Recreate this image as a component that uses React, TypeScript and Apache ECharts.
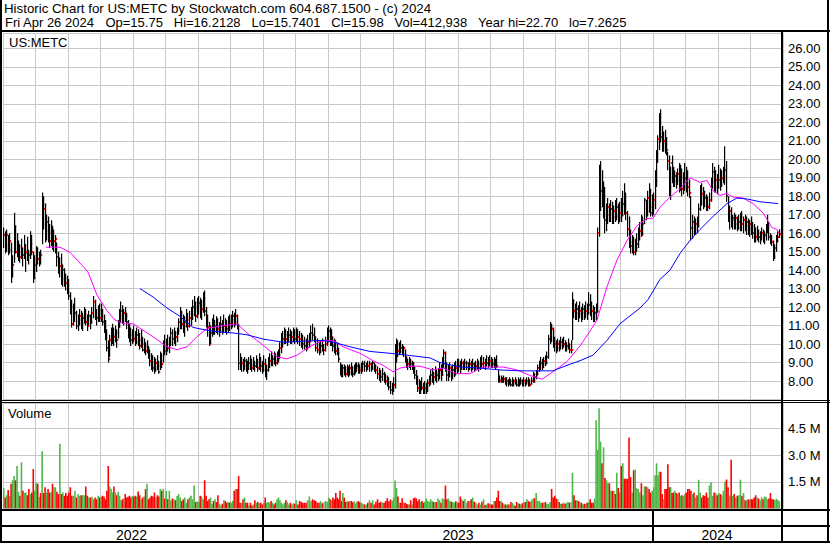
import React, { useEffect, useRef } from "react";
import * as echarts from "echarts";

const FONT = '"Liberation Sans", Arial, sans-serif';

// Daily bars, May 2 2022 .. Apr 26 2024 (one row per month)
const highs: number[] = [
  16.3,16.1,16.2,15.9,16.0,15.5,14.8,17.1,16.4,16.0,15.6,15.4,15.7,15.2,15.9,15.4,15.8,15.1,16.1,15.9,15.0,14.8,
  15.3,15.2,15.0,15.1,18.2,18.0,17.6,17.0,16.9,16.5,16.7,16.4,16.2,15.9,15.5,15.0,14.7,14.9,14.3,14.1,13.8,13.7,
  13.5,12.8,12.4,12.2,12.5,11.8,11.6,11.9,11.8,11.7,12.0,11.9,11.6,11.8,11.6,12.0,12.6,12.4,11.9,12.1,12.2,
  12.2,11.9,11.6,11.3,10.8,10.2,10.5,10.9,11.1,10.9,11.0,10.8,11.3,11.9,12.3,12.1,11.9,12.0,11.7,11.3,11.1,10.9,10.8,
  11.0,10.7,10.9,10.8,10.6,10.8,10.4,10.3,10.1,10.2,9.9,9.7,9.5,9.4,9.3,9.2,9.4,9.1,9.6,9.5,10.2,10.5,
  10.3,10.5,10.4,10.9,10.8,10.9,10.7,10.9,11.4,12.0,11.8,11.6,11.5,11.9,11.7,11.8,12.0,12.4,12.6,12.3,12.5,
  12.6,12.5,12.4,12.8,12.9,12.0,11.6,11.2,11.0,11.4,11.6,11.3,11.5,11.4,11.2,11.5,11.3,11.6,11.4,11.3,11.5,11.6,
  11.6,11.8,11.7,11.9,11.6,11.1,9.5,9.3,9.2,9.3,9.2,9.1,9.3,9.4,9.2,9.3,9.1,9.4,9.2,9.5,9.3,9.1,
  9.4,9.2,8.9,9.3,9.5,9.6,9.4,9.6,9.5,9.6,9.7,10.1,10.6,10.7,10.9,10.8,10.7,10.9,10.8,10.7,10.9,10.8,
  10.9,10.8,10.7,10.6,10.5,10.4,10.3,10.5,10.6,11.0,11.1,10.9,10.4,10.3,10.1,10.2,10.3,10.0,10.4,10.9,
  11.0,10.9,10.8,10.4,10.3,10.2,10.1,9.8,9.0,8.9,8.9,8.9,8.8,8.9,8.8,8.9,9.0,8.8,8.9,9.0,9.0,9.0,8.9,
  9.0,9.1,9.1,9.0,9.1,9.1,9.0,9.1,9.0,8.9,8.8,8.7,8.6,8.7,8.5,8.4,8.3,8.2,8.0,7.9,
  8.2,10.0,10.3,10.2,10.1,10.2,10.0,9.9,9.7,9.3,9.2,9.3,9.2,9.1,9.0,8.8,8.6,8.3,8.1,8.0,8.2,7.9,8.0,
  7.9,8.1,8.3,8.6,8.7,8.5,8.8,8.6,8.7,9.0,8.9,9.3,9.7,9.6,9.0,8.9,9.0,8.8,8.9,9.0,9.1,9.2,
  9.2,9.1,9.2,9.1,9.2,9.1,9.0,9.2,9.1,9.2,9.0,9.1,9.2,9.1,9.3,9.4,9.3,9.2,9.4,9.3,9.4,
  9.3,9.2,9.3,9.2,9.4,8.6,8.3,8.3,8.2,8.3,8.2,8.2,8.1,8.2,8.1,8.2,8.1,8.2,8.1,8.2,8.1,8.2,8.1,
  8.2,8.1,8.2,8.2,8.1,8.2,8.5,8.4,8.6,8.9,9.1,9.3,9.2,9.3,9.4,9.6,10.5,11.2,11.1,10.9,10.4,
  10.2,10.3,10.2,10.4,10.3,10.4,10.2,10.1,10.3,10.0,10.2,12.8,12.4,12.2,12.3,12.1,12.3,12.0,12.2,12.1,12.3,12.2,
  12.8,12.7,12.3,12.1,12.0,12.2,16.3,19.7,19.9,19.4,18.8,18.5,17.6,17.9,17.6,17.8,17.7,17.5,17.8,17.9,17.6,17.7,
  17.9,18.3,18.7,18.2,17.2,16.9,16.2,15.9,15.8,15.7,16.0,16.3,16.6,17.0,16.9,17.9,17.8,18.3,18.7,18.4,18.1,
  18.2,19.4,20.5,21.3,22.5,22.7,21.8,21.5,21.6,21.2,20.4,20.2,19.6,20.2,19.6,19.4,19.3,19.5,19.8,19.7,19.5,19.3,19.8,
  19.6,19.4,18.9,18.0,17.0,16.9,16.8,16.9,17.6,18.6,18.7,18.5,18.3,18.1,18.0,18.2,19.0,19.8,19.6,19.4,19.2,
  19.7,19.5,19.4,19.6,20.7,19.9,18.0,17.5,17.4,17.0,17.1,17.0,16.9,17.0,17.1,17.2,16.9,17.0,16.9,16.8,16.7,
  16.9,16.6,16.5,16.3,16.4,16.2,16.1,16.3,16.2,16.1,16.5,17.0,16.6,16.0,15.9,15.6,15.4,15.9,16.1,16.2128,
];
const lows: number[] = [
  15.2,14.9,15.0,14.8,14.9,13.3,13.6,14.4,14.9,14.7,14.5,14.4,14.6,14.2,14.6,13.9,14.5,14.3,14.6,14.8,13.3,13.5,
  13.9,14.3,14.2,14.3,15.4,16.2,15.5,15.6,15.5,15.2,15.3,15.1,15.0,14.9,14.2,13.8,13.6,13.2,13.1,13.1,12.9,12.7,
  12.4,11.6,10.9,11.0,11.2,10.8,10.7,11.0,10.8,10.7,11.1,11.0,10.7,11.0,10.8,11.1,11.4,11.3,11.0,11.2,11.2,
  11.2,11.0,10.6,10.2,9.6,9.0,9.3,9.9,10.0,9.9,10.1,9.8,10.3,10.9,11.2,11.1,11.0,11.2,10.8,10.3,10.1,9.9,10.0,
  10.1,9.9,10.0,9.9,9.7,9.8,9.6,9.5,9.4,9.5,9.2,8.8,8.6,8.5,8.4,8.5,8.6,8.4,8.6,8.7,9.0,9.4,
  9.4,9.6,9.5,9.9,9.9,10.0,9.9,10.1,10.5,10.8,10.8,10.6,10.4,10.9,10.7,10.9,11.0,11.3,11.5,11.2,11.4,
  11.6,11.4,11.3,11.7,11.5,10.9,10.4,9.9,10.0,10.4,10.5,10.5,10.6,10.5,10.4,10.6,10.5,10.6,10.6,10.5,10.6,10.7,
  10.8,10.9,10.9,11.0,10.8,8.6,8.6,8.5,8.5,8.6,8.5,8.4,8.6,8.6,8.5,8.6,8.5,8.7,8.5,8.6,8.5,8.4,
  8.5,8.2,8.05,8.5,8.7,8.8,8.8,8.9,8.8,8.9,9.0,9.2,9.5,9.8,10.0,10.0,9.9,10.1,10.0,10.0,10.1,10.0,
  10.1,10.0,9.9,9.8,9.7,9.7,9.6,9.7,9.8,10.1,10.2,10.1,9.6,9.5,9.4,9.5,9.6,9.4,9.6,9.9,
  10.1,9.9,9.9,9.6,9.5,9.4,9.4,9.0,8.3,8.2,8.2,8.3,8.2,8.3,8.2,8.3,8.3,8.2,8.3,8.4,8.5,8.4,8.4,
  8.4,8.5,8.5,8.5,8.6,8.5,8.5,8.6,8.5,8.4,8.1,8.0,7.9,8.0,7.9,7.8,7.7,7.5,7.3,7.2625,
  7.4,7.6,9.0,9.3,9.4,9.5,9.4,9.3,9.0,8.7,8.6,8.7,8.6,8.6,8.4,8.1,7.8,7.4,7.3,7.3,7.5,7.3,7.3,
  7.3,7.4,7.7,7.8,7.9,7.8,8.0,7.9,8.0,8.1,8.0,8.3,8.7,8.5,8.0,8.0,8.2,8.0,8.1,8.2,8.3,8.4,
  8.5,8.4,8.6,8.6,8.6,8.6,8.5,8.6,8.5,8.6,8.5,8.6,8.6,8.5,8.6,8.7,8.7,8.6,8.8,8.7,8.8,
  8.7,8.7,8.7,8.6,8.7,7.9,7.9,7.9,7.9,7.9,7.8,7.7,7.7,7.8,7.7,7.7,7.7,7.8,7.7,7.7,7.7,7.8,7.7,
  7.7,7.7,7.8,7.7,7.7,7.8,7.9,7.9,8.1,8.3,8.5,8.6,8.6,8.7,8.8,8.9,9.2,10.0,10.1,9.8,9.6,
  9.5,9.6,9.6,9.7,9.7,9.8,9.6,9.6,9.7,9.5,9.5,10.2,11.4,11.3,11.3,11.2,11.4,11.2,11.3,11.3,11.4,11.3,
  11.6,11.5,11.3,11.2,11.2,11.3,11.7,15.8,17.2,17.4,16.8,16.0,16.1,16.5,16.6,16.6,16.5,16.5,16.6,16.7,16.5,16.6,
  16.6,16.9,17.0,16.7,15.8,15.2,14.9,14.9,14.8,14.8,15.0,15.2,15.6,15.8,15.9,16.5,16.7,16.9,17.1,16.9,16.9,
  17.0,17.3,18.5,19.8,20.5,20.9,20.4,20.4,20.3,20.2,19.4,18.0,17.8,18.7,18.5,18.5,18.4,18.6,18.2,18.3,18.0,18.1,18.3,
  18.2,18.0,17.9,15.6,15.7,15.9,15.9,16.0,16.3,17.2,17.5,17.3,17.4,17.2,17.2,17.3,17.7,18.4,18.2,18.2,18.1,
  18.4,18.3,18.5,18.7,18.6,17.7,16.6,16.2,16.3,16.2,16.2,16.2,16.1,16.2,16.1,16.1,16.0,16.1,15.9,15.9,15.8,
  15.9,15.7,15.5,15.5,15.6,15.5,15.4,15.6,15.5,15.4,15.6,16.0,15.6,15.4,15.3,14.5,14.6,15.0,15.5,15.7401,
];
const closes: number[] = [
  15.9,15.3,15.9,15.1,15.6,13.8,14.3,16.4,15.0,15.2,15.3,14.7,15.2,14.8,14.9,15.0,14.9,14.8,15.4,15.0,13.6,14.3,
  15.2,14.6,14.9,14.8,17.6,17.3,16.1,16.6,16.0,15.6,16.3,15.5,15.6,15.7,14.7,14.0,14.2,13.5,14.0,13.6,13.3,12.8,
  12.6,12.0,11.1,11.6,11.7,11.0,11.3,11.5,11.1,11.4,11.6,11.2,11.0,11.5,11.2,11.7,12.3,11.5,11.4,11.8,11.4,
  11.5,11.2,10.9,10.5,9.8,9.2,10.2,10.3,10.5,10.4,10.6,10.2,10.9,11.5,11.8,11.6,11.7,11.5,11.2,10.6,10.5,10.2,10.4,
  10.3,10.1,10.5,10.2,9.9,10.0,9.7,9.9,9.6,9.8,9.4,9.1,8.8,8.7,8.6,9.0,8.8,8.5,9.1,8.9,9.8,9.6,
  10.0,9.8,10.1,10.6,10.3,10.6,10.4,10.7,11.2,11.7,11.1,11.0,11.2,11.3,11.0,11.4,11.6,12.0,12.2,11.5,12.1,
  12.2,11.8,11.9,12.5,11.8,11.2,10.9,10.0,10.6,11.0,10.8,11.0,10.9,10.8,10.9,11.1,10.8,11.0,10.9,10.8,11.2,11.1,
  11.3,11.5,11.2,11.5,11.0,9.0,8.9,9.0,8.8,9.1,8.9,8.7,9.0,8.8,8.7,9.0,8.8,9.0,8.7,8.9,8.8,8.6,
  8.9,8.4,8.6,8.9,9.1,9.0,9.2,9.1,9.0,9.2,9.4,9.8,10.0,10.3,10.5,10.3,10.4,10.5,10.2,10.4,10.6,10.3,
  10.5,10.4,10.3,10.2,10.0,9.9,9.8,10.1,10.3,10.6,10.5,10.4,9.8,9.7,9.6,9.9,9.7,9.7,10.0,10.4,
  10.7,10.2,10.4,9.9,9.7,9.6,9.5,9.2,8.6,8.5,8.7,8.5,8.4,8.6,8.5,8.7,8.5,8.4,8.6,8.7,8.8,8.7,8.6,
  8.8,8.9,8.8,8.9,8.8,8.9,8.7,9.0,8.8,8.6,8.4,8.3,8.2,8.4,8.2,8.0,7.9,7.7,7.5,7.6,
  7.8,9.6,10.0,9.6,9.9,9.8,9.7,9.8,9.3,9.0,8.9,9.1,8.9,9.0,8.7,8.3,8.0,7.6,7.5,7.7,7.6,7.5,7.6,
  7.7,7.9,8.0,8.3,8.4,8.2,8.4,8.3,8.5,8.6,8.3,8.9,9.5,8.8,8.3,8.5,8.7,8.3,8.6,8.8,8.7,8.9,
  8.8,8.7,9.0,8.9,9.0,9.0,8.7,8.9,8.8,8.9,8.7,8.8,8.9,8.7,9.0,8.9,9.0,8.9,9.0,8.9,9.1,
  9.0,8.9,9.0,8.9,8.8,8.1,8.0,8.1,8.0,8.1,7.9,8.0,7.9,8.0,7.8,7.9,8.0,7.9,7.8,8.0,7.9,8.0,7.9,
  8.0,7.9,8.0,7.9,7.8,8.0,8.4,8.2,8.4,8.7,8.9,9.0,8.9,9.1,9.0,9.3,10.3,10.9,10.8,10.2,10.0,
  9.8,10.0,9.9,10.1,9.9,10.0,9.8,9.9,10.0,9.7,9.7,12.4,11.8,11.7,11.9,11.6,11.8,11.7,11.9,11.6,11.8,11.7,
  12.1,11.9,11.8,11.6,11.7,11.8,16.0,17.4,18.3,17.9,18.0,16.7,17.0,17.4,17.0,17.3,16.9,17.2,16.9,17.4,16.8,17.1,
  17.0,17.6,17.5,17.1,16.2,15.5,15.3,15.6,15.0,15.2,15.4,15.8,16.1,15.9,16.5,17.8,17.2,17.9,17.4,17.1,17.5,
  17.8,18.8,20.3,21.1,22.3,21.2,20.9,21.0,20.8,20.5,19.9,18.5,19.8,19.5,18.8,19.1,18.9,19.2,18.6,19.0,18.4,18.9,19.0,
  18.7,18.5,18.2,16.3,16.6,16.2,16.5,16.4,17.3,18.4,18.1,18.0,17.9,17.5,17.4,17.8,18.8,19.3,18.5,18.9,18.5,
  18.9,18.6,19.0,19.1,19.4,18.0,16.8,17.2,16.7,16.8,16.5,16.8,16.3,16.6,16.9,16.5,16.7,16.4,16.6,16.3,16.5,
  16.4,16.0,15.9,15.8,16.0,15.8,15.9,16.0,15.8,15.9,16.1,16.3,15.8,15.6,15.5,14.7,15.2,15.6,15.8,15.98,
];
// daily volume, thousands of shares
const volumesK: number[] = [
  1150,615,750,1040,700,1385,1580,1830,1580,2385,940,712,2600,1000,865,904,750,1096,808,904,2210,1000,
  1440,1385,654,865,3210,865,1192,904,1096,904,904,1385,1192,1192,942,808,3640,808,904,712,865,712,
  904,1192,712,712,1000,615,808,712,750,750,750,1230,712,615,615,654,520,615,520,712,615,
  654,712,654,520,1000,2385,1230,1096,904,1230,904,750,942,712,462,520,558,808,615,654,712,615,700,
  654,712,670,960,750,520,615,670,1096,1385,520,615,712,670,904,615,750,670,1096,1000,1096,558,
  1000,520,1000,462,558,520,462,700,808,615,423,520,615,327,520,615,712,520,1290,365,400,
  365,712,670,520,1580,712,423,520,615,270,423,520,365,750,270,173,270,462,423,327,365,330,
  327,423,1000,1096,1096,1830,327,327,520,615,327,327,173,327,173,231,462,327,365,300,327,231,
  327,615,327,365,327,423,327,231,327,520,615,462,327,231,327,462,365,231,327,231,300,270,
  460,231,423,385,327,327,327,462,670,423,520,462,423,327,327,400,300,350,420,380,
  615,520,462,615,520,865,615,520,1000,423,865,615,365,423,385,423,423,350,400,300,380,420,350,
  327,270,231,231,327,462,327,462,231,385,520,327,385,327,327,423,577,400,500,450,
  615,1577,1154,673,327,327,577,327,327,270,231,231,462,231,577,615,558,400,520,365,423,327,385,
  558,423,385,520,423,365,365,365,558,462,327,577,520,1288,520,558,423,385,365,327,400,350,
  327,673,520,423,520,327,423,423,520,615,385,327,231,327,231,385,520,192,231,300,270,
  231,231,423,423,615,1000,423,423,327,231,231,231,231,231,365,327,231,135,365,300,270,231,300,
  365,365,520,423,365,462,558,577,865,423,423,327,327,330,365,270,270,365,1100,615,712,
  558,520,365,270,270,327,270,327,365,327,365,2000,750,462,462,423,365,327,231,270,270,327,
  365,520,327,327,558,4950,3300,5620,3750,2540,3440,1710,1580,1420,1420,1000,1000,1000,808,2000,1150,900,
  2390,2540,1670,1670,1670,3980,1770,904,2150,2190,1130,1096,904,1420,750,1230,1230,1190,1096,904,1000,
  1190,1870,2540,1865,2060,2060,808,520,1096,1096,2480,1190,1190,865,904,1000,865,808,904,712,750,700,800,
  904,1096,1096,1000,808,904,615,750,1620,904,615,750,712,904,615,1290,1480,712,904,865,750,
  865,808,750,1000,1520,1630,1192,712,2730,712,808,615,712,750,1620,712,865,462,462,520,500,
  520,520,615,750,615,558,462,615,520,654,654,520,558,865,520,520,462,550,480,412.938,
];
// moving averages: [months since May 1 2022, price]
const maShort: [number, number][] = [
  [1.323,15.24],[1.754,15.24],[2.062,14.97],[2.308,14.5],[2.615,13.9],[2.892,12.65],[3.2,11.8],[3.446,11.3],
  [3.692,11.1],[4.0,11.1],[4.308,10.75],[4.615,10.4],[5.046,9.85],[5.354,9.7],[5.662,9.85],[5.969,10.4],
  [6.277,10.85],[6.677,10.97],[7.2,11.1],[7.508,10.6],[7.846,10.15],[8.0,9.95],[8.431,9.3],[8.738,9.2],
  [9.046,9.4],[9.385,9.8],[9.754,10.15],[10.154,10.2],[10.462,9.85],[10.985,9.5],[11.385,9.1],[11.692,8.85],
  [12.0,8.5],[12.215,8.7],[12.523,8.8],[12.831,8.8],[13.231,8.6],[13.538,8.7],[13.969,8.4],[14.369,8.4],
  [14.769,8.76],[15.385,8.76],[15.815,8.6],[16.215,8.3],[16.585,8.1],[16.923,8.5],[17.354,9.05],[17.754,9.9],
  [18.062,10.7],[18.277,11.3],[18.585,13.1],[18.892,14.55],[19.2,15.6],[19.508,16.4],[19.815,16.8],[20.0,16.8],
  [20.215,17.4],[20.523,17.95],[20.831,18.4],[21.138,19.0],[21.446,18.75],[21.662,18.85],[21.846,18.3],
  [22.062,18.05],[22.277,18.15],[22.462,17.95],[22.769,17.9],[23.077,17.6],[23.385,17.1],[23.662,16.3],
  [23.815,16.2],[23.877,16.0],
];
const maLong: [number, number][] = [
  [4.215,13.0],[4.615,12.55],[5.046,11.95],[5.446,11.5],[5.846,10.9],[6.277,10.75],[6.677,10.65],[7.077,10.6],
  [7.508,10.5],[8.0,10.27],[8.615,10.1],[9.231,10.15],[9.846,10.2],[10.277,10.05],[10.677,9.85],[11.292,9.6],
  [11.908,9.5],[12.431,9.4],[13.138,9.25],[13.446,9.0],[14.062,8.76],[14.677,8.7],[15.292,8.6],[15.908,8.55],
  [16.923,8.55],[17.354,8.85],[17.754,9.1],[18.154,9.4],[18.585,10.2],[18.985,11.1],[19.6,11.95],[19.846,12.4],
  [20.215,13.5],[20.523,14.0],[20.831,14.9],[21.138,15.6],[21.446,16.2],[21.846,16.9],[22.277,17.6],
  [22.585,17.9],[22.892,17.85],[23.292,17.7],[23.846,17.6],
];

const priceAxis = { min: 7, max: 26.83, step: 1, firstLabel: 8, lastLabel: 26 };
const volumeAxis = { min: 0, max: 5920, step: 1500 };
const yearLabels = ["2022", "2023", "2024"];
const titleText = "Historic Chart for US:METC by Stockwatch.com 604.687.1500 - (c) 2024";
const infoFields = [
  "Fri Apr 26 2024", "Op=15.75", "Hi=16.2128", "Lo=15.7401", "Cl=15.98",
  "Vol=412,938", "Year hi=22.70", "lo=7.2625",
];
const symbolLabel = "US:METC";
const volumeLabel = "Volume";

const START_YEAR = 2022;
const START_MONTH = 4; // May (0-based)
const MONTHS = 24;

// fractional month position of every weekday, evenly spread inside its month
function barPositions(count: number): number[] {
  const xs: number[] = [];
  for (let k = 0; k < MONTHS && xs.length < count; k++) {
    const y = START_YEAR + Math.floor((START_MONTH + k) / 12);
    const mo = (START_MONTH + k) % 12;
    const dim = new Date(Date.UTC(y, mo + 1, 0)).getUTCDate();
    const days: number[] = [];
    for (let d = 1; d <= dim; d++) {
      const wd = new Date(Date.UTC(y, mo, d)).getUTCDay();
      if (wd !== 0 && wd !== 6) days.push(d);
    }
    days.forEach((_, i) => {
      if (xs.length < count) xs.push(k + (i + 0.5) / days.length);
    });
  }
  return xs;
}

function measure(text: string, font: string): number {
  const c = document.createElement("canvas").getContext("2d");
  if (!c) return text.length * 7;
  c.font = font;
  return c.measureText(text).width;
}

export default function App() {
  const ref = useRef<HTMLDivElement>(null);

  useEffect(() => {
    if (!ref.current) return;
    const chart = echarts.init(ref.current, undefined, { renderer: "svg" });
    const xs = barPositions(closes.length);
    const priceData = xs.map((x, i) => [x, highs[i], lows[i], closes[i]]);
    const volData = xs.map((x, i) => {
      const prev = i > 0 ? closes[i - 1] : closes[i] - 1;
      const dir = closes[i] > prev ? 1 : closes[i] < prev ? -1 : 0;
      return [x, volumesK[i], dir];
    });
    const gridColor = "#c8c8c8";
    const xAxisBase = {
      type: "value" as const,
      min: 0,
      max: MONTHS,
      interval: 1,
      axisLine: { show: false },
      axisTick: { show: false },
      axisLabel: { show: false },
      splitLine: { show: true, lineStyle: { color: gridColor, width: 1 } },
    };
    const option: any = {
      animation: false,
      backgroundColor: "#ffffff",
      grid: [
        { left: 3, top: 33, width: 780, height: 366.5 },
        { left: 3, top: 403, width: 780, height: 105.5 },
      ],
      xAxis: [
        { ...xAxisBase, gridIndex: 0 },
        { ...xAxisBase, gridIndex: 1 },
      ],
      yAxis: [
        {
          gridIndex: 0,
          type: "value",
          position: "right",
          min: priceAxis.min,
          max: priceAxis.max,
          interval: priceAxis.step,
          axisLine: { show: false },
          axisTick: { show: false },
          splitLine: { show: true, lineStyle: { color: gridColor, width: 1 } },
          axisLabel: {
            margin: 5,
            color: "#000",
            fontSize: 13,
            fontFamily: FONT,
            showMaxLabel: false,
            formatter: (v: number) =>
              v >= priceAxis.firstLabel && v <= priceAxis.lastLabel ? v.toFixed(2) : "",
          },
        },
        {
          gridIndex: 1,
          type: "value",
          position: "right",
          min: volumeAxis.min,
          max: volumeAxis.max,
          interval: volumeAxis.step,
          axisLine: { show: false },
          axisTick: { show: false },
          splitLine: { show: true, lineStyle: { color: gridColor, width: 1 } },
          axisLabel: {
            margin: 5,
            color: "#000",
            fontSize: 13,
            fontFamily: FONT,
            showMaxLabel: false,
            formatter: (v: number) =>
              v > 0 && v < volumeAxis.max - volumeAxis.step / 2 ? (v / 1000).toFixed(1) + " M" : "",
          },
        },
      ],
      series: [
        {
          type: "custom",
          xAxisIndex: 1,
          yAxisIndex: 1,
          silent: true,
          clip: true,
          data: volData,
          encode: { x: 0, y: 1 },
          renderItem: (_p: any, api: any) => {
            const x = api.value(0);
            const v = api.value(1);
            const dir = api.value(2);
            const p0 = api.coord([x, 0]);
            const p1 = api.coord([x, v]);
            return {
              type: "rect",
              shape: { x: p0[0] - 0.8, y: p1[1], width: 1.6, height: p0[1] - p1[1] },
              style: { fill: dir > 0 ? "#4db848" : dir < 0 ? "#ff0000" : "#a0a0a0" },
            };
          },
        },
        {
          type: "custom",
          xAxisIndex: 0,
          yAxisIndex: 0,
          silent: true,
          clip: true,
          data: priceData,
          encode: { x: 0, y: [1, 2, 3] },
          renderItem: (_p: any, api: any) => {
            const x = api.value(0);
            const pH = api.coord([x, api.value(1)]);
            const pL = api.coord([x, api.value(2)]);
            const pC = api.coord([x, api.value(3)]);
            const bx = Math.floor(pH[0]);
            return {
              type: "group",
              children: [
                {
                  type: "rect",
                  shape: { x: bx, y: pH[1], width: 1.2, height: Math.max(1, pL[1] - pH[1]) },
                  style: { fill: "#000000" },
                },
                {
                  type: "rect",
                  shape: { x: bx + 1, y: Math.round(pC[1]) - 1, width: 1.2, height: 2 },
                  style: { fill: "#ff0000" },
                },
              ],
            };
          },
        },
        {
          type: "line",
          xAxisIndex: 0,
          yAxisIndex: 0,
          data: maShort,
          showSymbol: false,
          silent: true,
          lineStyle: { color: "#ff00ff", width: 1 },
          z: 5,
        },
        {
          type: "line",
          xAxisIndex: 0,
          yAxisIndex: 0,
          data: maLong,
          showSymbol: false,
          silent: true,
          lineStyle: { color: "#0000ff", width: 1 },
          z: 5,
        },
      ],
    };
    chart.setOption(option);

    // frame, header and year row
    const px = (m: number) => chart.convertToPixel({ xAxisIndex: 0 }, m) as number;
    const boundaries: number[] = [];
    for (let k = 1; k < MONTHS; k++) if ((START_MONTH + k) % 12 === 0) boundaries.push(k);
    const segs = [0, ...boundaries, MONTHS];
    const W = 830;
    const H = 543;
    const black = { fill: "#000000" };
    const txt = (text: string, x: number, y: number, size: number, align = "left") => ({
      type: "text",
      x,
      y,
      z: 120,
      silent: true,
      style: {
        text,
        fill: "#000000",
        font: `${size}px ${FONT}`,
        textAlign: align,
        align,
        textVerticalAlign: "middle",
        verticalAlign: "middle",
      },
    });
    const rect = (x: number, y: number, w: number, h: number) => ({
      type: "rect",
      z: 110,
      silent: true,
      shape: { x, y, width: w, height: h },
      style: black,
    });
    const infoFont = `13px ${FONT}`;
    const gap = measure("   ", infoFont);
    const fieldX: number[] = [];
    let cx = 5;
    infoFields.forEach((f) => {
      fieldX.push(cx);
      cx += measure(f, infoFont) + gap;
    });
    const graphics: any[] = [
      { type: "rect", z: 100, silent: true, shape: { x: 0, y: 0, width: W, height: 30 }, style: { fill: "#fff" } },
      rect(0, 0, 2, H),
      rect(827, 0, 2, H),
      rect(0, 541, W, 2),
      rect(0, 30, W, 2),
      rect(781, 30, 2, H - 30),
      rect(0, 400, W, 1),
      rect(0, 402, W, 1),
      rect(0, 509, W, 2),
      rect(0, 525, W, 2),
      txt(titleText, 4, 8.2, 13.3),
      ...infoFields.map((f, i) => txt(f, fieldX[i], 22.8, 13)),
      txt(symbolLabel, 9, 42.2, 13),
      txt(volumeLabel, 8, 413.8, 13),
    ];
    boundaries.forEach((b) => {
      graphics.push(rect(Math.round(px(b)) - 1, 509, 2, 32));
    });
    for (let s = 0; s < segs.length - 1; s++) {
      const a = s === 0 ? 0 : px(segs[s]);
      const b = s === segs.length - 2 ? 781 : px(segs[s + 1]);
      graphics.push(txt(yearLabels[s], (a + b) / 2, 535, 14, "center"));
    }
    chart.setOption({ graphic: graphics });

    return () => chart.dispose();
  }, []);

  return (
    <div
      ref={ref}
      style={{ position: "absolute", left: 0, top: 0, width: 830, height: 543, background: "#fff" }}
    />
  );
}
